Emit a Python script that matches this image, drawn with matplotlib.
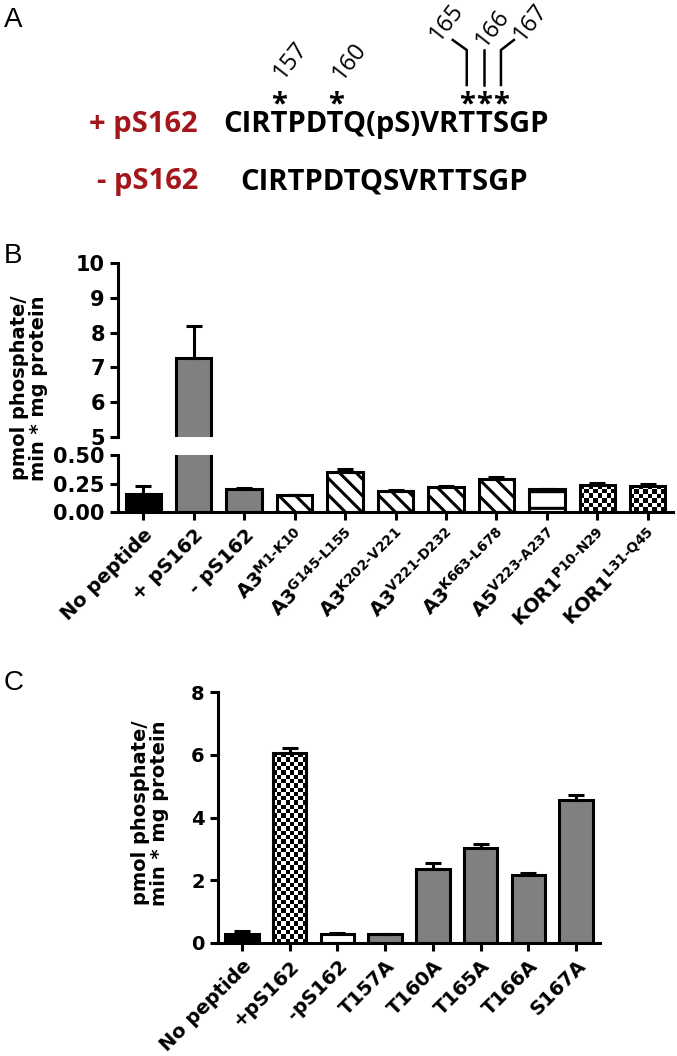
import numpy as np
import matplotlib
matplotlib.use("Agg")
import matplotlib.pyplot as plt
from matplotlib.lines import Line2D

plt.rcParams["font.family"] = ["DejaVu Sans"]
plt.rcParams["font.weight"] = "bold"
plt.rcParams["hatch.linewidth"] = 2.2
plt.rcParams["mathtext.fontset"] = "custom"
plt.rcParams["mathtext.rm"] = "DejaVu Sans:bold"
plt.rcParams["mathtext.it"] = "DejaVu Sans:bold"
plt.rcParams["mathtext.bf"] = "DejaVu Sans:bold"

RED = "#A3161B"
GRAY = "#808080"
LW = 2.2

# ---- panel A: peptides and marked sites
peptide_on = "CIRTPDTQ(pS)VRTTSGP"
peptide_off = "CIRTPDTQSVRTTSGP"
site_numbers = ["157", "160", "165", "166", "167"]
site_index = [3, 6, 14, 15, 16]

# ---- panel B: peptide panel
b_labels = ["No peptide", "+ pS162", "- pS162",
            "A3$^{M1‐K10}$", "A3$^{G145‐L155}$", "A3$^{K202‐V221}$",
            "A3$^{V221‐D232}$", "A3$^{K663‐L678}$", "A5$^{V223‐A237}$",
            "KOR1$^{P10‐N29}$", "KOR1$^{L31‐Q45}$"]
b_values = [0.16, 7.28, 0.20, 0.15, 0.35, 0.18, 0.22, 0.29, 0.20, 0.24, 0.23]
b_errors = [0.07, 0.90, 0.01, 0.0, 0.03, 0.01, 0.01, 0.02, 0.0, 0.015, 0.015]
b_styles = ["black", "gray", "gray", "diag", "diag", "diag", "diag", "diag",
            "horiz", "check", "check"]

# ---- panel C: point mutants
c_labels = ["No peptide", "+pS162", "-pS162", "T157A", "T160A", "T165A",
            "T166A", "S167A"]
c_values = [0.30, 6.05, 0.30, 0.28, 2.35, 3.02, 2.17, 4.55]
c_errors = [0.08, 0.15, 0.02, 0.02, 0.20, 0.15, 0.07, 0.18]
c_styles = ["black", "check", "white", "gray", "gray", "gray", "gray", "gray"]

W, H = 677, 1056
fig = plt.figure(figsize=(W / 100, H / 100), dpi=100)


def px(x):
    return x / W


def py(y):
    return 1 - y / H


def box(x0, y0, x1, y1):
    return [px(x0), py(y1), (x1 - x0) / W, (y1 - y0) / H]


def draw_bars(ax, values, errors, styles):
    x = np.arange(len(values))
    bars = ax.bar(x, values, width=0.7, edgecolor="black", linewidth=LW, zorder=2)
    for bar, st in zip(bars, styles):
        if st == "black":
            bar.set_facecolor("black")
        elif st == "gray":
            bar.set_facecolor(GRAY)
        elif st == "white":
            bar.set_facecolor("white")
        elif st == "diag":
            bar.set_facecolor("white")
            bar.set_hatch("\\\\")
        elif st == "horiz":
            bar.set_facecolor("white")
            bar.set_hatch("-")
        elif st == "check":
            bar.set_facecolor("none")
    ax.errorbar(x, values, yerr=[np.zeros(len(errors)), errors], fmt="none",
                ecolor="black", elinewidth=LW, capsize=6, capthick=LW, zorder=3)
    return bars


def add_checks(ax, bars, styles, cell=4.3):
    xlim, ylim = ax.get_xlim(), ax.get_ylim()
    for bar, st in zip(bars, styles):
        if st != "check":
            continue
        x0, w, h = bar.get_x(), bar.get_width(), bar.get_height()
        p0 = ax.transData.transform((x0, 0))
        p1 = ax.transData.transform((x0 + w, h))
        nx = max(1, int(round(abs(p1[0] - p0[0]) / cell)))
        ny = max(1, int(round(abs(p1[1] - p0[1]) / cell)))
        grid = np.indices((ny, nx)).sum(axis=0) % 2
        im = ax.imshow(grid, cmap="gray", extent=(x0, x0 + w, 0, h), aspect="auto",
                       interpolation="nearest", zorder=1.5)
        im.set_clip_path(bar)
    ax.set_xlim(xlim)
    ax.set_ylim(ylim)


def style(ax, size):
    ax.spines[["top", "right"]].set_visible(False)
    for s in ax.spines.values():
        s.set_linewidth(LW)
    ax.tick_params(width=LW, length=6, labelsize=size, direction="out")
    ax.set_facecolor("none")


# ---------------- panel B (broken axis)
ax_bt = fig.add_axes(box(118, 263, 673, 437))
ax_bb = fig.add_axes(box(118, 455, 673, 512))
draw_bars(ax_bt, b_values, b_errors, b_styles)
bars_b = draw_bars(ax_bb, b_values, b_errors, b_styles)
for ax in (ax_bt, ax_bb):
    style(ax, 15)
    ax.set_xlim(-0.5, len(b_values) - 0.5)
ax_bt.set_ylim(5, 10)
ax_bt.set_yticks([5, 6, 7, 8, 9, 10])
ax_bt.spines["bottom"].set_visible(False)
ax_bt.set_xticks([])
ax_bb.set_ylim(0, 0.5)
ax_bb.set_yticks([0, 0.25, 0.5], ["0.00", "0.25", "0.50"])
ax_bb.set_xticks(np.arange(len(b_labels)), b_labels, rotation=45, ha="right",
                 rotation_mode="anchor", fontsize=14)
add_checks(ax_bb, bars_b, b_styles)

# ---------------- panel C
ax_c = fig.add_axes(box(218, 692, 600, 943))
bars_c = draw_bars(ax_c, c_values, c_errors, c_styles)
style(ax_c, 14)
ax_c.set_xlim(-0.5, len(c_values) - 0.5)
ax_c.set_ylim(0, 8)
ax_c.set_yticks([0, 2, 4, 6, 8])
ax_c.set_xticks(np.arange(len(c_labels)), c_labels, rotation=45, ha="right",
                rotation_mode="anchor", fontsize=14)
add_checks(ax_c, bars_c, c_styles)

ylab = "pmol phosphate/\nmin * mg protein"
fig.text(px(29), py(388), ylab, rotation=90, ha="center", va="center",
         multialignment="center", fontsize=14, linespacing=1.0)
fig.text(px(150), py(813), ylab, rotation=90, ha="center", va="center",
         multialignment="center", fontsize=14, linespacing=1.0)

panel_kw = dict(fontsize=20, fontweight="normal", family="Liberation Sans", va="top")
fig.text(px(4), py(7), "A", **panel_kw)
fig.text(px(4), py(243), "B", **panel_kw)
fig.text(px(4), py(670), "C", **panel_kw)

# ---------------- panel A (sequences)
seq_kw = dict(fontsize=21, fontweight="bold", family="Open Sans")
seq_x, base1, base2 = 223, 132, 189
fig.text(px(198), py(base1), "+ pS162", ha="right", va="baseline", color=RED, **seq_kw)
fig.text(px(198), py(base2), "- pS162", ha="right", va="baseline", color=RED, **seq_kw)
fig.text(px(seq_x), py(base1), peptide_on, ha="left", va="baseline", **seq_kw)
fig.text(px(240), py(base2), peptide_off, ha="left", va="baseline", **seq_kw)

fig.canvas.draw()
renderer = fig.canvas.get_renderer()


def text_width(s):
    if not s:
        return 0.0
    tmp = fig.text(0, 0, s, **seq_kw)
    w = tmp.get_window_extent(renderer).width
    tmp.remove()
    return w


centers = [seq_x + text_width(peptide_on[:i]) + text_width(peptide_on[i]) / 2
           for i in site_index]

for cx in centers:
    fig.text(px(cx), py(112), "*", ha="center", va="baseline", **seq_kw)

num_kw = dict(fontsize=17, fontweight="normal", family="Open Sans", rotation=52,
              rotation_mode="anchor", ha="center", va="center")
offsets = [(12, 60), (14, 61), (-20, 22), (9, 28), (30, 22)]
for num, cx, (dx, yy) in zip(site_numbers, centers, offsets):
    fig.text(px(cx + dx), py(yy), num, **num_kw)

bends = [-14, 0, 13]
for cx, b in zip(centers[2:], bends):
    xs = [cx, cx] if b == 0 else [cx, cx, cx + b]
    ys = [85, 50] if b == 0 else [85, 50, 40]
    fig.add_artist(Line2D([px(v) for v in xs], [py(v) for v in ys],
                          transform=fig.transFigure, color="black", lw=1.8))

fig.savefig("out.png", dpi=100)
